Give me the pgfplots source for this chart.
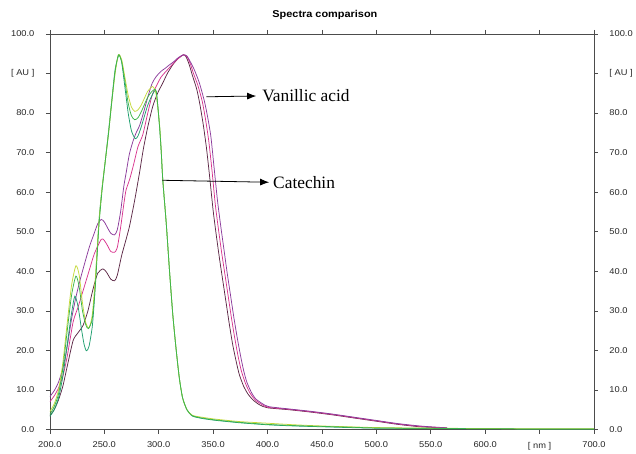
\documentclass[border=0pt]{standalone}
\usepackage{pgfplots}
\pgfplotsset{compat=1.18}
\usepackage{fontspec}
\setmainfont{Liberation Serif}
\newfontfamily\arialw[FakeStretch=1.1]{Liberation Sans}
\usetikzlibrary{arrows.meta}
\definecolor{cyg}{HTML}{C5D93A}
\definecolor{cgr}{HTML}{3DB54A}
\definecolor{cte}{HTML}{1E9E6E}
\definecolor{vvi}{HTML}{8B3A9B}
\definecolor{vma}{HTML}{D8348E}
\definecolor{vmr}{HTML}{5C2745}
\pgfplotstableread{
x y
200 4.5
204 6.5
208 10
212 17
216 27
220 36.5
224 41.4
227 39
230 32
233 27
236 25.7
239 29
242 39
245 52
248 61
251 68
254 75
257 83
260 90
263 94.7
266 93.5
269 89
272 84.5
275 81.5
278 80.4
281 80.8
284 82
287 83.8
290 85.5
294.5 86.7
297.5 85
300.7 77.5
302.3 70.8
303.8 63.2
307 52
310 40
313 29
316 20.4
319 13
322 8
326 5
331 3.6
340 3.1
350 2.7
360 2.4
375 2
400 1.6
425 1.2
450 0.9
475 0.7
500 0.5
550 0.35
600 0.25
650 0.2
700 0.2
}\catA
\pgfplotstableread{
x y
200 3.8
204 5.8
208 9
212 15.5
216 25
220 34
224 38.8
227 36
230 30
233 26.5
235.5 25.5
239 28
242 37
245 51
248 60.5
251 68
254 75
257 83
260 90.5
263 94.7
266 93
269 88
272 82.5
275 79.3
278 78.3
281 78.8
284 80.3
287 82.2
290 84
294 85.5
297.7 85.5
300.7 77
302.3 70.5
303.8 63
307 52
310 40
313 29
316 20.4
319 13
322 8
326 5
331 3.5
340 2.9
350 2.5
360 2.2
375 1.8
400 1.3
425 1.0
450 0.8
475 0.6
500 0.4
550 0.3
600 0.2
650 0.15
700 0.15
}\catB
\pgfplotstableread{
x y
200 3.3
204 5
208 8
212 13.5
216 21.5
220 29.5
223 33.7
226 31
229 25.5
231.5 21.5
233.6 19.9
236 21
239 26
241 33
243 43
245.5 54
248 61
251 68
254 75.5
257 83.5
260 91
263.5 94.7
266 92.8
269 86.5
272 80
275 75.5
278.5 73.5
281 74.2
284 76.5
287 79.3
290 82
294 84.5
297.7 85.5
300.7 77
302.3 70.5
303.8 63
307 52
310 40
313 29
316 20.4
319 13
322 8
326 5
331 3.4
340 2.8
350 2.4
360 2.1
375 1.7
400 1.2
425 0.9
450 0.7
475 0.5
500 0.35
550 0.25
600 0.2
650 0.15
700 0.15
}\catC
\pgfplotstableread{
x y
200 8.3
204 9.8
208 12
212 15.5
216 21
220 28
224 33.5
228 38
232 42
236.6 46.4
240 49
244 52
247.3 53.1
250 52.5
253 51
256 49.6
259.5 49.2
262 50.5
265 55
268 61.5
270.2 65
273 69.5
276 72.5
279 74.8
282.4 76.8
286 80
290 84
294 87.5
297.7 89.2
302 90.5
306 91.3
310 92.2
314 93
318 94
322.7 94.7
326 94.4
329 93
332.8 90.9
337.4 87.6
342 83
345 79
348 74
351 66
354 58
357 51.5
360 45.5
363 39.5
366 34
369 28.5
372 23.5
375 19
378 15
381 12
385 9.5
389 7.8
395 6.6
401 5.8
420 5.2
440 4.6
460 3.9
480 3.1
500 2.3
520 1.5
540 0.9
555 0.6
565 0.45
}\vanA
\pgfplotstableread{
x y
200 7
204 8.5
208 10.5
212 13.5
216 18.5
221.4 27.2
226 31
231 35.5
236.6 40.6
241 44.5
247.3 48.1
250 47.8
253 46.5
256 45
259.5 44.8
262 46
265 51
268 57
270 60.5
273.3 63.2
277 67
281 71.5
285.4 74.5
290 80
294 84.5
297.7 86.7
302 89
306 90.3
310 91.5
316 93.3
322.7 94.7
326 94.2
329 92.5
332 90
336 87
340 83
343 78.5
346 73
349 65.5
352 57
355 50.5
358 44.5
361 39
364 33.5
367 28
370 23
373 18.5
376 14.8
380 11.5
384 9.2
389 7.4
395 6.3
401 5.6
420 5.1
440 4.5
460 3.8
480 3.0
500 2.2
520 1.4
540 0.8
555 0.55
565 0.4
}\vanB
\pgfplotstableread{
x y
200 3.5
204 5
208 7.5
212 11
216 16
221.4 22.5
226 24.5
230.5 26.3
235 30
239.7 35.5
244 39.5
248.8 40.6
252 39.8
256 38
259.5 37.6
262 39
266 44
270 48
273.3 51.5
278 58
282.4 64.9
286 71
290 76.5
294.6 81.7
299 85
303.8 87.6
308 90
313 92.2
318 93.8
322.7 94.7
325 94.3
328 92.3
331 89.5
335 86
338 82
341 77
344 71
347 63.5
350 55.5
353 49
356 43
359 37.5
362 32
365 26.5
368 21.5
371 17.5
374 14
378 11
382 9
387 7.4
393 6.2
400 5.5
420 5.0
440 4.4
460 3.7
480 2.9
500 2.1
520 1.3
540 0.7
555 0.5
565 0.35
}\vanC
\begin{document}
\begin{tikzpicture}
\begin{axis}[
  scale only axis, width=546bp, height=397bp,
  xmin=200, xmax=700, ymin=0, ymax=100,
  xtick={200,250,...,700},
  xticklabels={200.0,250.0,300.0,350.0,400.0,450.0,500.0,550.0,600.0,{[ nm ]},700.0},
  ytick={0,10,...,100},
  yticklabels={0.0,10.0,20.0,30.0,40.0,50.0,60.0,70.0,80.0,{[ AU ]},100.0},
  tick align=outside, major tick length=4bp,
  tick style={black!70, line width=0.5pt},
  axis line style={black!70, line width=0.6pt},
  ticklabel style={font=\arialw\fontsize{8.5}{10}\selectfont, text=black!85},
  xticklabel style={yshift=-5bp},
  yticklabel style={xshift=-8bp},
  every axis plot/.append style={line width=0.75pt, smooth, tension=0.4},
]
\addplot[vmr] table {\vanC};
\addplot[vma] table {\vanB};
\addplot[vvi] table {\vanA};
\addplot[cte] table {\catC};
\addplot[cyg] table {\catA};
\addplot[cgr] table {\catB};
\draw[-{Latex[length=9bp,width=7bp]}, line width=0.8pt] (axis cs:343.8,84.1) -- (axis cs:389.6,84.3);
\node[anchor=west, font=\fontsize{17.5}{20}\selectfont, inner sep=0pt] at (axis cs:395,84.3) {Vanillic acid};
\draw[-{Latex[length=9bp,width=7bp]}, line width=0.8pt] (axis cs:303.5,63) -- (axis cs:401.5,62.5);
\node[anchor=west, font=\fontsize{17.5}{20}\selectfont, inner sep=0pt] at (axis cs:405.1,62.5) {Catechin};
\end{axis}
\begin{axis}[
  scale only axis, width=546bp, height=397bp,
  xmin=200, xmax=700, ymin=0, ymax=100,
  axis line style={draw=none}, xtick=\empty,
  ytick={0,10,...,100},
  yticklabels={0.0,10.0,20.0,30.0,40.0,50.0,60.0,70.0,80.0,{[ AU ]},100.0},
  yticklabel pos=right, major tick length=0pt,
  ticklabel style={font=\arialw\fontsize{8.5}{10}\selectfont, text=black!85},
  yticklabel style={anchor=west, xshift=12bp},
]
\end{axis}
\node[anchor=base, inner sep=0pt, font=\arialw\bfseries\fontsize{10}{12}\selectfont] at (276bp,413.7bp) {Spectra comparison};
\path (-50bp,-19bp) rectangle (586bp,431bp);
\end{tikzpicture}
\end{document}
